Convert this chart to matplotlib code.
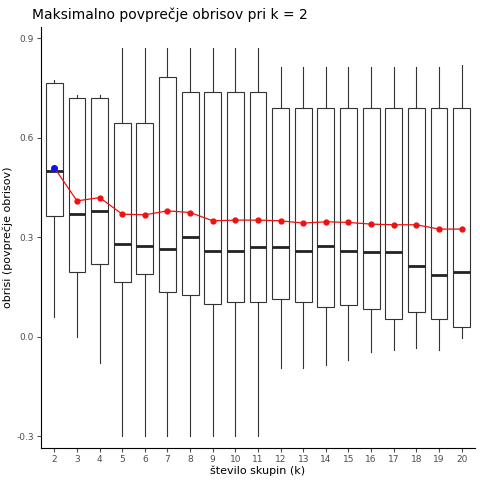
import matplotlib
matplotlib.use("Agg")
import matplotlib.pyplot as plt

k = list(range(2, 21))
whislo = [0.06, 0.0, -0.08, -0.3, -0.3, -0.3, -0.3, -0.3, -0.3, -0.3,
          -0.095, -0.095, -0.085, -0.07, -0.045, -0.04, -0.035, -0.04, -0.005]
q1 = [0.365, 0.195, 0.22, 0.165, 0.19, 0.135, 0.125, 0.10, 0.105, 0.105,
      0.115, 0.105, 0.09, 0.095, 0.085, 0.055, 0.075, 0.055, 0.03]
med = [0.50, 0.37, 0.38, 0.28, 0.275, 0.265, 0.30, 0.26, 0.26, 0.27,
       0.27, 0.26, 0.275, 0.26, 0.255, 0.255, 0.215, 0.185, 0.195]
q3 = [0.765, 0.72, 0.72, 0.645, 0.645, 0.785, 0.74, 0.74, 0.74, 0.74,
      0.69, 0.69, 0.69, 0.69, 0.69, 0.69, 0.69, 0.69, 0.69]
whishi = [0.775, 0.73, 0.73, 0.87, 0.87, 0.87, 0.87, 0.87, 0.87, 0.87,
          0.815, 0.815, 0.815, 0.815, 0.815, 0.815, 0.815, 0.815, 0.82]
means = [0.51, 0.41, 0.42, 0.37, 0.368, 0.38, 0.375, 0.35, 0.352, 0.352,
         0.35, 0.343, 0.347, 0.345, 0.34, 0.338, 0.338, 0.325, 0.325]

stats = [dict(whislo=a, q1=b, med=c, q3=d, whishi=e, fliers=[])
         for a, b, c, d, e in zip(whislo, q1, med, q3, whishi)]

fig = plt.figure(figsize=(4.8, 4.8), dpi=100)
ax = fig.add_axes([0.085, 0.067, 0.905, 0.877])
ax.bxp(stats, positions=k, widths=0.75, showcaps=False, patch_artist=True,
       boxprops=dict(facecolor='white', edgecolor='#333333', linewidth=0.8),
       whiskerprops=dict(color='#333333', linewidth=0.8),
       medianprops=dict(color='#222222', linewidth=2))
ax.plot(k, means, color='#ee1111', linewidth=0.9, marker='o', markersize=3.5, zorder=3)
ax.plot([2], [means[0]], 'o', color='#1111ee', markersize=4, zorder=4)

ax.set_xlim(1.4, 20.6)
ax.set_ylim(-0.335, 0.935)
ax.set_xticks(k)
ax.set_xticklabels([str(i) for i in k])
ax.set_yticks([-0.3, 0.0, 0.3, 0.6, 0.9])
ax.set_yticklabels(['-0.3', '0.0', '0.3', '0.6', '0.9'])
ax.tick_params(labelsize=6.5, colors='#4d4d4d', length=3, pad=2)
for s in ['top', 'right']:
    ax.spines[s].set_visible(False)
ax.set_xlabel('število skupin (k)', fontsize=8, labelpad=1)
ax.set_ylabel('obrisi (povprečje obrisov)', fontsize=8, labelpad=2)
ax.set_title('Maksimalno povprečje obrisov pri k = 2', loc='left', fontsize=10, x=-0.02)
fig.savefig('out.png', dpi=100)
